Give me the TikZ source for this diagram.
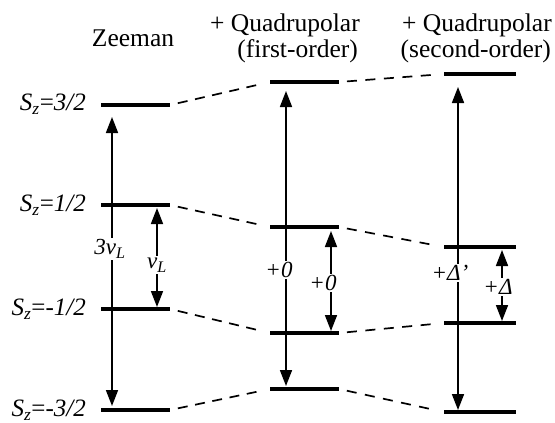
\documentclass[tikz,border=0pt]{standalone}
\usepackage{fontspec}
\setmainfont{Liberation Serif}
\usetikzlibrary{arrows.meta}
\begin{document}
\begin{tikzpicture}[x=1pt,y=-1pt,
  level/.style={line width=3.8pt},
  link/.style={line width=1.7pt, dash pattern=on 10pt off 7.6pt, shorten <=8pt, shorten >=8pt},
  linkb/.style={line width=1.7pt, dash pattern=on 10pt off 8.5pt, shorten <=8pt, shorten >=8pt},
  trans/.style={line width=1.7pt, {Triangle[length=16pt,width=12pt]}-{Triangle[length=16pt,width=12pt]}},
  head/.style={inner sep=0pt, font=\fontsize{25.5}{26}\selectfont},
  state/.style={inner sep=0pt, anchor=east, font=\fontsize{25}{26}\selectfont\itshape},
  gap/.style={fill=white, inner sep=1.5pt, font=\fontsize{23}{24}\selectfont\itshape}]
\useasboundingbox (0,0) rectangle (555,423);
% headers
\node[head, anchor=base] (hz) at (133,46) {Zeeman};
\node[head, anchor=base east] (h1a) at (360,31) {+ Quadrupolar};
\node[head, anchor=base east] (h1b) at (358,57) {(first-order)};
\node[head, anchor=base east] (h2a) at (552,31) {+ Quadrupolar};
\node[head, anchor=base east] (h2b) at (551,57) {(second-order)};
% state labels
\node[state] (s1) at (86,104) {S\textsubscript{z}\upshape=\itshape 3/2};
\node[state] (s2) at (86,205) {S\textsubscript{z}\upshape=\itshape 1/2};
\node[state] (s3) at (86,309) {S\textsubscript{z}\upshape=\itshape -1/2};
\node[state] (s4) at (86,410) {S\textsubscript{z}\upshape=\itshape -3/2};
% level coordinates
\coordinate (Z1a) at (101,105); \coordinate (Z1b) at (170,105);
\coordinate (Z2a) at (101,205); \coordinate (Z2b) at (170,205);
\coordinate (Z3a) at (101,309); \coordinate (Z3b) at (170,309);
\coordinate (Z4a) at (101,410); \coordinate (Z4b) at (170,410);
\coordinate (F1a) at (270,82);  \coordinate (F1b) at (339,82);
\coordinate (F2a) at (270,227); \coordinate (F2b) at (339,227);
\coordinate (F3a) at (270,333); \coordinate (F3b) at (339,333);
\coordinate (F4a) at (270,389); \coordinate (F4b) at (339,389);
\coordinate (Q1a) at (444,74);  \coordinate (Q1b) at (516,74);
\coordinate (Q2a) at (444,247); \coordinate (Q2b) at (516,247);
\coordinate (Q3a) at (444,323); \coordinate (Q3b) at (516,323);
\coordinate (Q4a) at (444,412); \coordinate (Q4b) at (516,412);
% levels
\foreach \c in {Z,F,Q}{\foreach \i in {1,2,3,4}{\draw[level] (\c\i a) -- (\c\i b);}}
% dashed links
\foreach \i in {1,2,3,4}{
  \draw[link] (Z\i b) -- (F\i a);
  \draw[linkb] (F\i b) -- (Q\i a);
}
% transition arrow ends
\coordinate (za) at (112,117); \coordinate (zb) at (112,406);
\coordinate (zc) at (157,208); \coordinate (zd) at (157,307);
\coordinate (fa) at (286,91);  \coordinate (fb) at (286,386);
\coordinate (fc) at (331,231); \coordinate (fd) at (331,331);
\coordinate (qa) at (458,87);  \coordinate (qb) at (458,410);
\coordinate (qc) at (502,250); \coordinate (qd) at (502,321);
\draw[trans] (za) -- (zb);
\draw[trans] (zc) -- (zd);
\draw[trans] (fa) -- (fb);
\draw[trans] (fc) -- (fd);
\draw[trans] (qa) -- (qb);
\draw[trans] (qc) -- (qd);
% labels
\node[gap] (l1) at (110,249) {3ν\textsubscript{L}};
\node[gap] (l2) at (157,265) {ν\textsubscript{L}};
\node[gap] (l3) at (279,270) {+0};
\node[gap] (l4) at (323,283) {+0};
\node[gap] (l5) at (450,273) {+Δ’};
\node[gap] (l6) at (498,287) {+Δ};
\end{tikzpicture}
\end{document}
